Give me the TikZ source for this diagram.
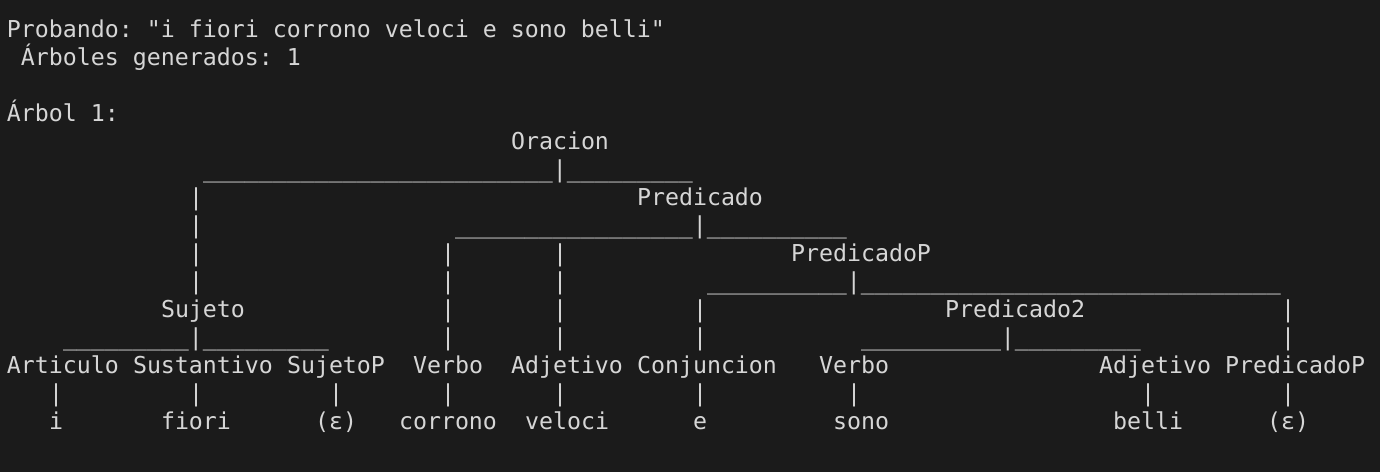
\documentclass[tikz,border=0pt]{standalone}
\usepackage{fontspec}
\newfontfamily\termfont{DejaVu Sans Mono}
\definecolor{termbg}{RGB}{27,27,27}
\definecolor{termfg}{RGB}{214,214,214}
\ExplSyntaxOn
\cs_new_protected:Npn \uscore #1 { \prg_replicate:nn {#1} {\_} }
\ExplSyntaxOff
\newcommand\tk[4]{\node[txt] (#1) at ({#2+0.5},{#3+1.357}) {#4};}
\frenchspacing
\begin{document}
\begin{tikzpicture}[x=10.5pt,y=-21pt,
  txt/.style={anchor=base west,inner sep=0pt,outer sep=0pt,text=termfg,
    font=\termfont\fontsize{17.44pt}{21pt}\selectfont\frenchspacing}]
\fill[termbg] (0,0) rectangle (98.571,16.857);
\useasboundingbox (0,0) rectangle (98.571,16.857);
% header
\tk{probando}{0}{0}{Probando: "i fiori corrono veloci e sono belli"}
\tk{generados}{1}{1}{Árboles generados: 1}
\tk{arbol}{0}{3}{Árbol 1:}
% row 4
\tk{oracion}{36}{4}{Oracion}
% row 5
\tk{u5}{14}{5}{\uscore{25}|\uscore{9}}
% row 6
\tk{b6a}{13}{6}{|}
\tk{predicado}{45}{6}{Predicado}
% row 7
\tk{b7a}{13}{7}{|}
\tk{u7}{32}{7}{\uscore{17}|\uscore{10}}
% row 8
\tk{b8a}{13}{8}{|}
\tk{b8b}{31}{8}{|}
\tk{b8c}{39}{8}{|}
\tk{predicadoPa}{56}{8}{PredicadoP}
% row 9
\tk{b9a}{13}{9}{|}
\tk{b9b}{31}{9}{|}
\tk{b9c}{39}{9}{|}
\tk{u9}{50}{9}{\uscore{10}|\uscore{30}}
% row 10
\tk{sujeto}{11}{10}{Sujeto}
\tk{b10b}{31}{10}{|}
\tk{b10c}{39}{10}{|}
\tk{b10d}{49}{10}{|}
\tk{predicado2}{67}{10}{Predicado2}
\tk{b10e}{91}{10}{|}
% row 11
\tk{u11a}{4}{11}{\uscore{9}|\uscore{9}}
\tk{b11b}{31}{11}{|}
\tk{b11c}{39}{11}{|}
\tk{b11d}{49}{11}{|}
\tk{u11b}{61}{11}{\uscore{10}|\uscore{9}}
\tk{b11e}{91}{11}{|}
% row 12
\tk{articulo}{0}{12}{Articulo}
\tk{sustantivo}{9}{12}{Sustantivo}
\tk{sujetoP}{20}{12}{SujetoP}
\tk{verboa}{29}{12}{Verbo}
\tk{adjetivoa}{36}{12}{Adjetivo}
\tk{conjuncion}{45}{12}{Conjuncion}
\tk{verbob}{58}{12}{Verbo}
\tk{adjetivob}{78}{12}{Adjetivo}
\tk{predicadoPb}{87}{12}{PredicadoP}
% row 13
\tk{l1}{3}{13}{|}
\tk{l2}{13}{13}{|}
\tk{l3}{23}{13}{|}
\tk{l4}{31}{13}{|}
\tk{l5}{39}{13}{|}
\tk{l6}{49}{13}{|}
\tk{l7}{60}{13}{|}
\tk{l8}{81}{13}{|}
\tk{l9}{91}{13}{|}
% row 14
\tk{wi}{3}{14}{i}
\tk{wfiori}{11}{14}{fiori}
\tk{weps1}{22}{14}{(ε)}
\tk{wcorrono}{28}{14}{corrono}
\tk{wveloci}{37}{14}{veloci}
\tk{we}{49}{14}{e}
\tk{wsono}{59}{14}{sono}
\tk{wbelli}{79}{14}{belli}
\tk{weps2}{90}{14}{(ε)}
\end{tikzpicture}
\end{document}
